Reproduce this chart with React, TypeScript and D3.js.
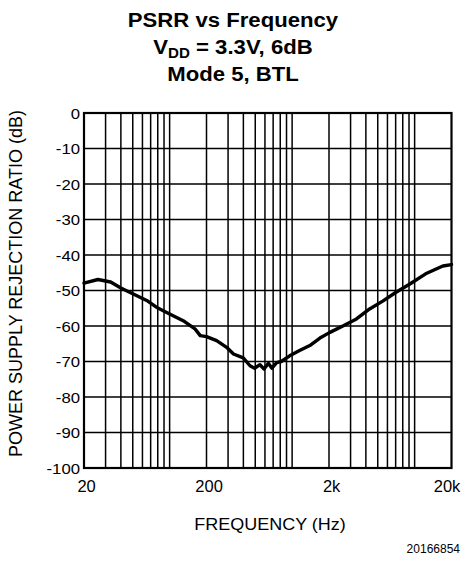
import React from "react";
import * as d3 from "d3";

const W = 461;
const H = 562;

const freqs = [20, 26, 33, 40, 50, 65, 78, 100, 129, 161, 178, 200, 242, 292, 332, 399, 453, 494, 546, 590, 640, 684, 748, 815, 955, 1150, 1394, 1686, 2035, 2620, 3350, 4290, 5490, 7050, 9010, 12300, 17000, 20000];
const psrr = [-47.9, -46.9, -47.6, -49.3, -50.9, -52.8, -54.7, -56.6, -58.5, -60.8, -62.7, -63.0, -64.1, -66.0, -67.9, -69.0, -71.2, -71.9, -70.9, -72.1, -70.5, -71.9, -70.3, -70.0, -68.4, -66.9, -65.5, -63.4, -61.8, -59.9, -58.0, -55.2, -53.0, -50.5, -48.3, -45.3, -43.1, -42.7];

const yTicks = [0, -10, -20, -30, -40, -50, -60, -70, -80, -90, -100];
const xTickValues = [20, 200, 2000, 20000];
const xTickLabels = ["20", "200", "2k", "20k"];
const xGrid = [30, 40, 50, 60, 70, 80, 90, 100, 200, 300, 400, 500, 600, 700, 800, 900, 1000, 2000, 3000, 4000, 5000, 6000, 7000, 8000, 9000, 10000];

const FONT = "'Liberation Sans', Arial, Helvetica, sans-serif";
const INK = "#000";

function SText(props: { x: number; y: number; sx?: number; anchor?: string; size: number; bold?: boolean; children: React.ReactNode }) {
  const { x, y, sx = 1, anchor = "middle", size, bold, children } = props;
  return (
    <g transform={`translate(${x},${y}) scale(${sx},1)`}>
      <text x={0} y={0} textAnchor={anchor} fontSize={size} fontWeight={bold ? "bold" : "normal"} fill={INK}>
        {children}
      </text>
    </g>
  );
}

export default function App() {
  const left = 84, right = 451.5, top = 113, bottom = 468;
  const x = d3.scaleLog().domain([20, 20000]).range([left, right]);
  const y = d3.scaleLinear().domain([-100, 0]).range([bottom, top]);
  const line = d3
    .line<number>()
    .x((_, i) => x(freqs[i]))
    .y((d) => y(d))
    .curve(d3.curveLinear);

  return (
    <svg
      width={W}
      height={H}
      style={{ position: "absolute", left: 0, top: 0, background: "#fff" }}
      fontFamily={FONT}
    >
      <rect x={0} y={0} width={W} height={H} fill="#fff" />
      <SText x={233} y={27} sx={1.08} size={20.5} bold>PSRR vs Frequency</SText>
      <SText x={233} y={54} sx={1.08} size={20.5} bold>
        V<tspan fontSize={14} dy={4}>DD</tspan>
        <tspan dy={-4}> = 3.3V, 6dB</tspan>
      </SText>
      <SText x={233} y={81} sx={1.08} size={20.5} bold>Mode 5, BTL</SText>

      {yTicks.map((t) => (
        <line key={"h" + t} x1={left} x2={right} y1={y(t)} y2={y(t)} stroke={INK} strokeWidth={1.5} />
      ))}
      {xGrid.map((f) => (
        <line key={"v" + f} x1={x(f)} x2={x(f)} y1={top} y2={bottom} stroke={INK} strokeWidth={1.5} />
      ))}
      <rect x={left} y={top} width={right - left} height={bottom - top} fill="none" stroke={INK} strokeWidth={2.2} />

      <path d={line(psrr) || ""} fill="none" stroke={INK} strokeWidth={3.4} strokeLinejoin="round" strokeLinecap="round" />

      {yTicks.map((t) => (
        <SText key={"yl" + t} x={80} y={y(t) + 5.5} sx={1.08} size={15.5} anchor="end">{t}</SText>
      ))}
      {xTickValues.map((v, i) => (
        <SText
          key={"xl" + v}
          x={i === xTickValues.length - 1 ? x(v) - 4.5 : x(v) + 2.6}
          y={491.5}
          size={16}
          sx={1.03}
        >
          {xTickLabels[i]}
        </SText>
      ))}
      <SText x={270} y={530} size={17} sx={1.06}>FREQUENCY (Hz)</SText>
      <text
        transform={`translate(22, 283.5) rotate(-90)`}
        fontSize={18}
        textAnchor="middle"
        fill={INK}
      >
        POWER SUPPLY REJECTION RATIO (dB)
      </text>
      <SText x={460} y={553} size={12} anchor="end">20166854</SText>
    </svg>
  );
}
